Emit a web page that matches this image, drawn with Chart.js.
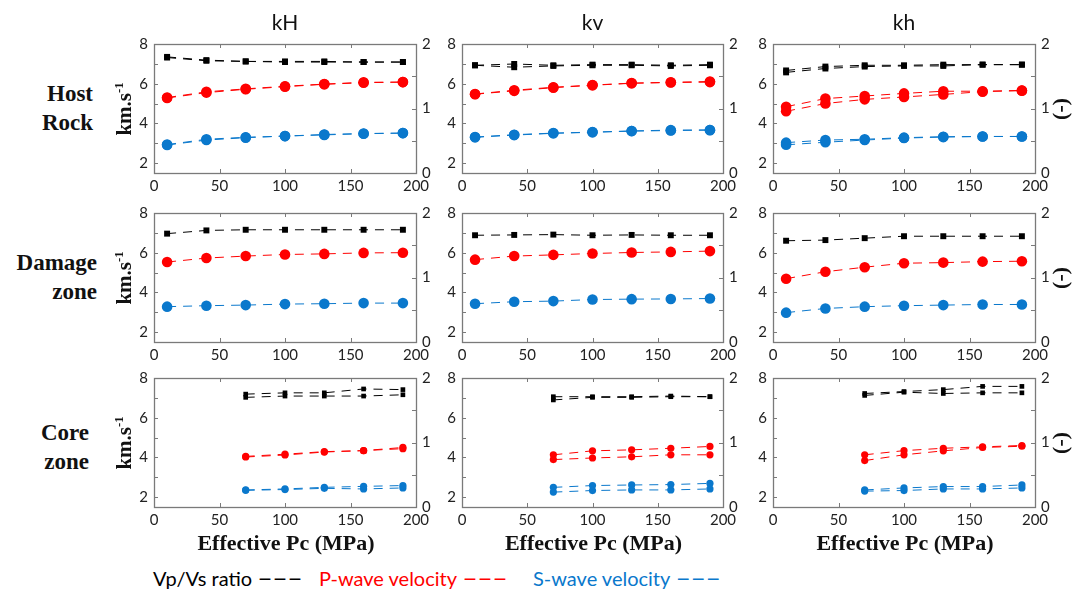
<!DOCTYPE html>
<html><head><meta charset="utf-8">
<script src="https://cdn.jsdelivr.net/npm/chart.js@4"></script>
<style>
body{margin:0;background:#fff;width:1086px;height:592px;overflow:hidden;position:relative;font-family:Lato,sans-serif;color:#111}
.t{position:absolute;white-space:nowrap;line-height:1}
.c{transform:translate(-50%,-50%)}
.r{transform:translate(-100%,-50%)}
.l{transform:translate(0,-50%)}
.serif{font-family:'Liberation Serif','Times New Roman',serif;font-weight:bold}
.dash{font-family:'DejaVu Sans',sans-serif;letter-spacing:3px;font-size:12px;font-weight:bold;vertical-align:3px;margin-left:7px}
canvas{position:absolute}
sup{font-size:60%;vertical-align:super;line-height:0}
</style></head><body>
<script>
// ---------- data ----------
const pressureAll  = [10, 40, 70, 100, 130, 160, 190];
const pressureCore = [70, 100, 130, 160, 190];
const columnTitles = ['kH', 'kv', 'kh'];
const rowTitles = [['Host', 'Rock'], ['Damage', 'zone'], ['Core', 'zone']];
const xTicks = [0, 50, 100, 150, 200];
const velocityTicks = [2, 3, 4, 5, 6, 7, 8];
const ratioTicks = [0, 0.5, 1, 1.5, 2];
const legendLabels = ['Vp/Vs ratio', 'P-wave velocity', 'S-wave velocity'];

// Host rock (loading / unloading)
const host_kH_ratio = [[1.80,1.75,1.73,1.73,1.73,1.72,1.72],[1.79,1.74,1.73,1.72,1.72,1.72,1.72]];
const host_kH_Vp    = [[5.30,5.59,5.74,5.87,5.98,6.07,6.08],[5.28,5.55,5.72,5.85,5.97,6.05,6.08]];
const host_kH_Vs    = [[2.93,3.20,3.30,3.36,3.44,3.49,3.51],[2.91,3.16,3.28,3.36,3.42,3.48,3.51]];
const host_kv_ratio = [[1.67,1.69,1.67,1.68,1.68,1.67,1.68],[1.67,1.64,1.66,1.67,1.67,1.66,1.67]];
const host_kv_Vp    = [[5.48,5.67,5.82,5.93,6.03,6.07,6.11],[5.47,5.64,5.80,5.92,6.02,6.06,6.08]];
const host_kv_Vs    = [[3.31,3.43,3.51,3.56,3.62,3.66,3.67],[3.30,3.41,3.50,3.55,3.61,3.64,3.66]];
const host_kh_ratio = [[1.59,1.65,1.67,1.67,1.68,1.68,1.68],[1.56,1.62,1.65,1.66,1.66,1.68,1.68]];
const host_kh_Vp    = [[4.84,5.25,5.38,5.51,5.62,5.62,5.66],[4.61,5.00,5.21,5.33,5.46,5.60,5.65]];
const host_kh_Vs    = [[3.03,3.16,3.20,3.28,3.33,3.34,3.34],[2.92,3.05,3.16,3.26,3.31,3.34,3.34]];
// Damage zone
const damage_kH_ratio = [[1.68,1.73,1.74,1.74,1.74,1.74,1.74]];
const damage_kH_Vp    = [[5.53,5.73,5.83,5.91,5.94,5.99,6.00]];
const damage_kH_Vs    = [[3.28,3.33,3.36,3.41,3.43,3.46,3.46]];
const damage_kv_ratio = [[1.655,1.66,1.665,1.655,1.66,1.655,1.655]];
const damage_kv_Vp    = [[5.65,5.83,5.89,5.96,6.01,6.04,6.08]];
const damage_kv_Vs    = [[3.43,3.53,3.56,3.64,3.66,3.67,3.69]];
const damage_kh_ratio = [[1.57,1.58,1.61,1.64,1.64,1.64,1.64]];
const damage_kh_Vp    = [[4.69,5.04,5.27,5.47,5.50,5.55,5.57]];
const damage_kh_Vs    = [[2.98,3.19,3.28,3.33,3.36,3.39,3.39]];
// Core zone
const core_kH_ratio = [[1.75,1.77,1.77,1.83,1.82],[1.70,1.72,1.72,1.72,1.74]];
const core_kH_Vp    = [[4.05,4.16,4.29,4.34,4.50],[4.02,4.12,4.27,4.34,4.44]];
const core_kH_Vs    = [[2.36,2.41,2.49,2.54,2.58],[2.34,2.38,2.44,2.41,2.46]];
const core_kv_ratio = [[1.71,1.71,1.71,1.72,1.71],[1.66,1.70,1.70,1.71,1.71]];
const core_kv_Vp    = [[4.13,4.33,4.38,4.46,4.55],[3.89,3.97,4.03,4.13,4.13]];
const core_kv_Vs    = [[2.49,2.58,2.61,2.63,2.69],[2.25,2.33,2.36,2.36,2.41]];
const core_kh_ratio = [[1.76,1.79,1.82,1.87,1.87],[1.73,1.78,1.76,1.77,1.77]];
const core_kh_Vp    = [[4.13,4.34,4.46,4.53,4.60],[3.84,4.13,4.33,4.50,4.56]];
const core_kh_Vs    = [[2.36,2.46,2.53,2.53,2.61],[2.30,2.33,2.41,2.41,2.46]];

// ---------- layout / style ----------
const panels = [
  [{x:pressureAll, ratio:host_kH_ratio, vp:host_kH_Vp, vs:host_kH_Vs},
   {x:pressureAll, ratio:host_kv_ratio, vp:host_kv_Vp, vs:host_kv_Vs},
   {x:pressureAll, ratio:host_kh_ratio, vp:host_kh_Vp, vs:host_kh_Vs}],
  [{x:pressureAll, ratio:damage_kH_ratio, vp:damage_kH_Vp, vs:damage_kH_Vs},
   {x:pressureAll, ratio:damage_kv_ratio, vp:damage_kv_Vp, vs:damage_kv_Vs},
   {x:pressureAll, ratio:damage_kh_ratio, vp:damage_kh_Vp, vs:damage_kh_Vs}],
  [{x:pressureCore, ratio:core_kH_ratio, vp:core_kH_Vp, vs:core_kH_Vs},
   {x:pressureCore, ratio:core_kv_ratio, vp:core_kv_Vp, vs:core_kv_Vs},
   {x:pressureCore, ratio:core_kh_ratio, vp:core_kh_Vp, vs:core_kh_Vs}]
];
const colLeft = [154, 462, 773], colW = [262, 261, 262];
const rowTop = [41, 210, 375], rowH = 132;
const PADT = 12, AXW = 34, AXH = 26;
const BLACK = '#000', RED = '#ff0000', BLUE = '#0a78cc';
const FRAME = '#7a7a7a';

function addText(html, x, y, cls, style) {
  const d = document.createElement('div');
  d.className = 't ' + cls;
  d.innerHTML = html;
  d.style.left = x + 'px'; d.style.top = y + 'px';
  Object.assign(d.style, style || {});
  document.body.appendChild(d);
  return d;
}

const framePlugin = {
  id: 'frame',
  afterDatasetsDraw(chart) {
    const {ctx, chartArea: a, scales} = chart;
    ctx.save();
    ctx.strokeStyle = FRAME; ctx.lineWidth = 1.3;
    ctx.strokeRect(Math.round(a.left) + 0.5, Math.round(a.top) + 0.5, Math.round(a.width), Math.round(a.height));
    ctx.lineWidth = 1;
    ctx.beginPath();
    const tl = 4;
    scales.x.ticks.forEach(t => {
      const p = Math.round(scales.x.getPixelForValue(t.value)) + 0.5;
      ctx.moveTo(p, a.bottom); ctx.lineTo(p, a.bottom - tl);
      ctx.moveTo(p, a.top); ctx.lineTo(p, a.top + tl);
    });
    scales.y.ticks.forEach(t => {
      const p = Math.round(scales.y.getPixelForValue(t.value)) + 0.5;
      ctx.moveTo(a.left, p); ctx.lineTo(a.left + tl, p);
    });
    scales.y2.ticks.forEach(t => {
      const p = Math.round(scales.y2.getPixelForValue(t.value)) + 0.5;
      ctx.moveTo(a.right, p); ctx.lineTo(a.right - tl, p);
    });
    ctx.stroke();
    ctx.restore();
  }
};

function mkDatasets(panel, core) {
  const ds = [];
  const circR = core ? 3.6 : 5.3, sqR = core ? 3.3 : 4.2;
  const add = (lines, axis, color, style, r) => {
    lines.forEach(arr => {
      ds.push({
        data: panel.x.map((p, i) => ({x: p, y: arr[i]})),
        yAxisID: axis,
        borderColor: color, backgroundColor: color,
        pointBackgroundColor: color, pointBorderWidth: 0,
        borderWidth: 1, borderDash: [9, 7],
        pointStyle: style, pointRadius: r, pointHoverRadius: r,
        tension: 0, fill: false
      });
    });
  };
  add(panel.ratio, 'y2', BLACK, 'rect', sqR);
  add(panel.vp, 'y', RED, 'circle', circR);
  add(panel.vs, 'y', BLUE, 'circle', circR);
  return ds;
}

const tickFont = {family: 'Lato', size: 15};
for (let r = 0; r < 3; r++) {
  for (let c = 0; c < 3; c++) {
    const cv = document.createElement('canvas');
    const w = colW[c] + 2 * AXW, h = rowH + PADT + AXH;
    cv.width = w; cv.height = h;
    cv.style.left = (colLeft[c] - AXW) + 'px';
    cv.style.top = (rowTop[r] - PADT) + 'px';
    cv.style.width = w + 'px'; cv.style.height = h + 'px';
    document.body.appendChild(cv);
    new Chart(cv, {
      type: 'line',
      data: {datasets: mkDatasets(panels[r][c], r === 2)},
      plugins: [framePlugin],
      options: {
        responsive: false, animation: false, devicePixelRatio: 1,
        layout: {padding: {top: PADT, left: 0, right: 0, bottom: 0}},
        plugins: {legend: {display: false}, tooltip: {enabled: false}},
        scales: {
          x: {type: 'linear', min: 0, max: 200,
              afterBuildTicks: s => { s.ticks = xTicks.map(v => ({value: v})); },
              afterFit: s => { s.height = AXH; },
              grid: {display: false, drawTicks: false}, border: {display: false},
              ticks: {padding: 4, font: tickFont, color: '#222', maxRotation: 0, autoSkip: false}},
          y: {type: 'linear', position: 'left', min: 1.5, max: 8,
              afterBuildTicks: s => { s.ticks = velocityTicks.map(v => ({value: v})); },
              afterFit: s => { s.width = AXW; },
              grid: {display: false, drawTicks: false}, border: {display: false},
              ticks: {padding: 6, font: tickFont, color: '#222', autoSkip: false,
                      callback: v => (v % 2 === 0 ? String(v) : '')}},
          y2: {type: 'linear', position: 'right', min: 0, max: 2,
              afterBuildTicks: s => { s.ticks = ratioTicks.map(v => ({value: v})); },
              afterFit: s => { s.width = AXW; },
              grid: {display: false, drawTicks: false}, border: {display: false},
              ticks: {padding: 6, font: tickFont, color: '#222', autoSkip: false,
                      callback: v => (Number.isInteger(v) ? String(v) : '')}}
        }
      }
    });
  }
}

// ---------- text ----------
const colCenter = colLeft.map((l, i) => l + colW[i] / 2);
columnTitles.forEach((t, i) => addText(t, colCenter[i], 21, 'c', {fontSize: '21px'}));
const rowLabelRight = [93, 97, 89];
rowTitles.forEach((lines, r) => {
  const mid = rowTop[r] + rowH / 2;
  const y0 = [93, 262, 432][r];
  addText(lines[0], rowLabelRight[r], y0, 'r serif', {fontSize: '23px'});
  addText(lines[1], rowLabelRight[r], y0 + 29, 'r serif', {fontSize: '23px'});
  addText('km.s<sup>-1</sup>', 124, mid + 2, 'serif', {fontSize: '21px', transform: 'translate(-50%,-50%) rotate(-90deg)'});
  addText('(-)', 1064, mid + 2, 'serif', {fontSize: '22px', transform: 'translate(-50%,-50%) rotate(90deg)'});
});
colCenter.forEach(cx => addText('Effective Pc (MPa)', cx + 1, 543, 'c serif', {fontSize: '22px'}));
const legendX = [153, 319, 533], legendC = [BLACK, RED, BLUE];
legendLabels.forEach((t, i) => addText(t + '<span class="dash">———</span>', legendX[i], 578, 'l', {fontSize: '20px', color: legendC[i]}));
</script>
</body></html>
